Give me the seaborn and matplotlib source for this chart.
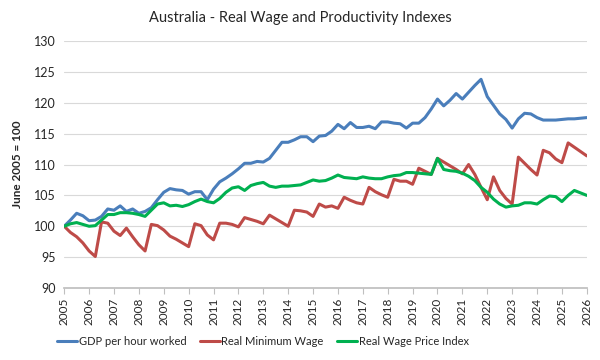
import numpy as np
import pandas as pd
import seaborn as sns
import matplotlib.pyplot as plt

# quarterly index values, June 2005 = 100 (2005.0 .. 2026.0)
gdp_per_hour = [
    100.0, 101.0, 102.1, 101.7,
    100.9, 101.0, 101.6, 102.8,
    102.6, 103.3, 102.4, 102.8,
    102.1, 102.4, 103.0, 104.3,
    105.5, 106.1, 105.9, 105.8,
    105.2, 105.6, 105.6, 104.3,
    106.0, 107.2, 107.8, 108.5,
    109.3, 110.2, 110.2, 110.5,
    110.4, 111.0, 112.3, 113.6,
    113.6, 114.0, 114.5, 114.5,
    113.7, 114.6, 114.7, 115.4,
    116.5, 115.8, 116.8, 116.0,
    116.0, 116.2, 115.8, 116.9,
    116.9, 116.7, 116.6, 115.9,
    116.7, 116.7, 117.6, 119.0,
    120.6, 119.5, 120.4, 121.5,
    120.6, 121.7, 122.8, 123.8,
    121.0, 119.6, 118.2, 117.3,
    115.9, 117.4, 118.3, 118.2,
    117.6, 117.2, 117.2, 117.2,
    117.3, 117.4, 117.4, 117.5,
    117.6,
]
real_min_wage = [
    100.0, 99.0, 98.3, 97.3,
    96.0, 95.1, 100.7, 100.5,
    99.2, 98.5, 99.7, 98.3,
    97.0, 96.0, 100.3, 100.1,
    99.4, 98.4, 97.9, 97.3,
    96.7, 100.4, 100.1, 98.6,
    97.8, 100.5, 100.5, 100.3,
    99.9, 101.4, 101.1, 100.8,
    100.4, 101.8, 101.2, 100.6,
    100.0, 102.6, 102.5, 102.3,
    101.6, 103.6, 103.1, 103.3,
    102.9, 104.7, 104.2, 103.8,
    103.6, 106.3, 105.6, 105.1,
    104.7, 107.6, 107.3, 107.3,
    106.8, 109.4, 108.9, 108.4,
    111.0, 110.4, 109.8, 109.2,
    108.5, 110.0, 108.4, 106.3,
    104.3, 108.0, 105.8, 104.5,
    103.6, 111.2, 110.2, 109.2,
    108.3, 112.3, 111.9, 110.9,
    110.3, 113.5, 112.8, 112.1,
    111.4,
]
real_wpi = [
    100.0, 100.4, 100.6, 100.3,
    100.0, 100.1, 101.0, 101.9,
    101.9, 102.2, 102.2, 102.1,
    101.9, 101.6, 102.6, 103.6,
    103.8, 103.3, 103.4, 103.2,
    103.5, 104.0, 104.4, 104.0,
    103.8, 104.5, 105.5, 106.2,
    106.4, 105.8, 106.6, 106.9,
    107.1, 106.5, 106.3, 106.5,
    106.5, 106.6, 106.7, 107.1,
    107.5, 107.3, 107.4, 107.8,
    108.3, 107.9, 107.8, 107.7,
    108.0, 107.8, 107.7, 107.7,
    108.0, 108.2, 108.3, 108.7,
    108.7, 108.6, 108.5, 108.4,
    111.0, 109.2, 109.0, 108.9,
    108.6, 108.1, 107.4, 106.3,
    105.5, 104.4, 103.6, 103.1,
    103.3, 103.4, 103.8, 103.8,
    103.6, 104.3, 104.9, 104.8,
    104.0, 105.0, 105.8, 105.4,
    105.0,
]
series_names = ["GDP per hour worked", "Real Minimum Wage", "Real Wage Price Index"]
series_colors = ["#4A7EBB", "#BE4B48", "#00B050"]
year_ticks = list(range(2005, 2027))


def build_frame():
    quarters = 2005 + np.arange(len(gdp_per_hour)) / 4
    df = pd.DataFrame({
        "quarter": quarters,
        series_names[0]: gdp_per_hour,
        series_names[1]: real_min_wage,
        series_names[2]: real_wpi,
    })
    return df.melt(id_vars="quarter", var_name="series", value_name="index")


def main():
    sns.set_theme(style="white")
    plt.rcParams["font.family"] = ["Lato", "DejaVu Sans"]

    fig = plt.figure(figsize=(6, 3.6), dpi=100)
    ax = fig.add_axes([0.107, 0.2, 0.871, 0.686])

    data = build_frame()
    sns.lineplot(data=data, x="quarter", y="index", hue="series",
                 hue_order=series_names, palette=series_colors,
                 linewidth=2.2, ax=ax)

    ax.set_xlim(2005, 2026)
    ax.set_ylim(90, 130)
    ax.set_yticks(range(90, 131, 5))
    ax.set_xticks(year_ticks)
    ax.set_xticklabels([str(y) for y in year_ticks], rotation=90, fontsize=8.5)
    ax.tick_params(axis="y", labelsize=9, length=0, pad=6)
    ax.tick_params(axis="x", length=4, width=0.8, color="#BFBFBF",
                   direction="out", bottom=True, pad=3)
    ax.grid(axis="y", color="#D9D9D9", linewidth=0.8)
    ax.set_axisbelow(True)
    for side in ["left", "right", "top"]:
        ax.spines[side].set_visible(False)
    ax.spines["bottom"].set_color("#BFBFBF")

    ax.set_xlabel("")
    ax.set_ylabel("June 2005 = 100", fontsize=8.5, fontweight="bold", labelpad=8)
    fig.suptitle("Australia - Real Wage and Productivity Indexes",
                 fontsize=10.5, y=0.97)

    ax.legend(loc="center", bbox_to_anchor=(0.38, -0.215), ncol=3,
              frameon=False, fontsize=8, handlelength=1.8,
              handletextpad=0.15, columnspacing=1.2)

    fig.savefig("out.png", dpi=100)


if __name__ == "__main__":
    main()
